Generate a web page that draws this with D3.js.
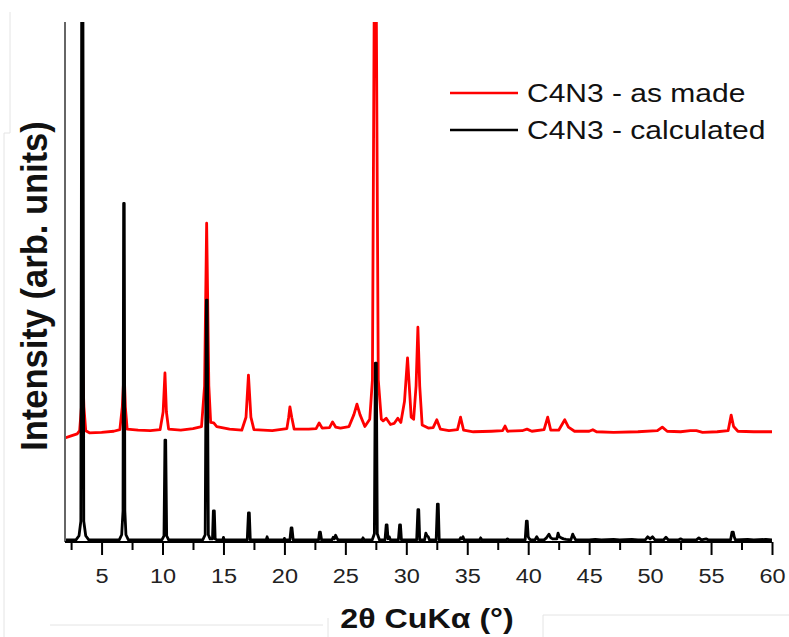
<!DOCTYPE html>
<html>
<head>
<meta charset="utf-8">
<script src="https://cdn.jsdelivr.net/npm/d3@7"></script>
<style>
  body { margin: 0; background: #fff; }
  text { font-family: "Liberation Sans", Arial, sans-serif; }
</style>
</head>
<body>
<div id="xrd"></div>
<script>
// pattern points: [2theta, intensity]
var asMade = [
  [2.0,200],[2.5,204],[3.0,208],[3.2,214],[3.35,260],[3.45,331],[3.55,260],[3.7,214],[4.0,210],[5,211],
  [6.0,213],[6.5,216],[6.7,260],[6.85,329],[6.95,260],[7.1,217],[8,215],[9,214],[9.8,216],[10.05,250],
  [10.2,325],[10.32,250],[10.5,217],[11.5,215],[12.5,218],[13.2,222],[13.45,300],[13.62,613],
  [13.8,300],[13.95,230],[14.2,229],[14.45,222],[15.5,217],[16.5,215],[16.85,240],[17.05,321],
  [17.25,240],[17.5,216],[19,214],[20.2,218],[20.35,240],[20.45,260],[20.6,240],[20.8,217],[22,217],
  [22.6,218],[22.85,229],[23.1,219],[23.7,220],[23.95,231],[24.2,221],[24.6,219],[25.3,222],[25.7,245],
  [25.95,265],[26.2,245],[26.6,222],[27.0,236],[27.22,312],[27.4,1200],[27.5,1200],[27.7,312],[27.95,236],
  [28.1,233],[28.35,238],[28.7,226],[29.0,228],[29.3,238],[29.55,230],[29.85,270],[30.1,354],
  [30.4,240],[30.6,236],[30.8,300],[30.95,413],[31.1,300],[31.3,225],[31.8,219],[32.2,220],[32.5,235],
  [32.8,217],[33.5,214],[34.2,216],[34.45,240],[34.7,215],[35.5,212],[37,213],[37.9,214],[38.1,223],
  [38.3,213],[39.5,214],[39.9,217],[40.3,213],[41.3,216],[41.6,240],[41.85,215],[42.5,215],[43.0,235],
  [43.3,221],[43.8,213],[45.0,213],[45.3,216],[45.6,212],[47,211],[49,212],[50.6,214],[51.0,221],
  [51.4,213],[52.5,212],[53.3,214],[53.8,214],[54.3,211],[55.5,212],[56.4,214],[56.65,244],[56.85,222],
  [57.2,213],[58.5,212],[60,212]
];

var calculated = [
  [2.0,4],[2.9,4],[3.15,12],[3.3,40],[3.38,1200],[3.46,1200],[3.54,40],[3.7,12],[3.95,4],
  [6.45,4],[6.65,14],[6.76,60],[6.81,651],[6.86,651],[6.91,60],[7.0,14],[7.2,4],
  [9.95,4],[10.12,12],[10.2,196],[10.26,196],[10.34,12],[10.5,4],
  [13.3,4],[13.5,14],[13.6,465],[13.66,465],[13.76,14],[13.9,6],
  [14.1,6],[14.17,60],[14.25,60],[14.32,6],[14.45,4],[14.95,4],[15.0,9],[15.06,4],
  [16.95,4],[17.05,56],[17.12,56],[17.2,4],[18.5,4],[18.58,10],[18.66,4],[19.95,4],[20.0,7],[20.05,4],
  [20.45,4],[20.55,27],[20.62,27],[20.72,4],[22.8,4],[22.88,19],[22.95,19],[23.05,4],
  [23.9,4],[24.0,9],[24.1,6],[24.2,13],[24.3,8],[24.4,4],[26.35,4],[26.45,8],[26.55,4],
  [27.2,4],[27.38,16],[27.46,344],[27.54,344],[27.62,16],[27.8,4],
  [28.25,4],[28.35,33],[28.42,33],[28.5,6],[28.6,10],[28.7,4],[29.35,4],[29.45,33],[29.52,33],[29.6,4],
  [30.85,4],[30.95,62],[31.02,62],[31.1,4],[31.5,4],[31.6,17],[31.7,12],[31.8,10],[31.9,4],
  [32.45,4],[32.55,73],[32.62,73],[32.7,4],[34.35,4],[34.45,8],[34.55,6],[34.65,10],[34.75,4],
  [36.0,4],[36.1,8],[36.2,4],[38.2,4],[38.3,6],[38.4,4],
  [39.75,4],[39.85,40],[39.92,40],[40.0,10],[40.1,6],[40.2,4],[40.55,4],[40.7,10],[40.85,4],
  [41.3,4],[41.5,8],[41.7,15],[41.85,8],[42.0,6],[42.35,6],[42.45,17],[42.55,10],[42.7,8],[42.9,6],[43.1,5],
  [43.5,4],[43.65,15],[43.75,10],[43.9,4],[45.0,4],[45.5,5],[46,4],[47,5],[47.5,4],[48.5,5],[49,4],
  [49.6,4],[49.8,10],[50.0,6],[50.2,10],[50.4,4],[51.1,4],[51.3,9],[51.5,4],[52.3,4],[52.5,6],[52.7,4],
  [53.8,4],[54.0,8],[54.2,4],[54.6,6],[54.8,4],[56.6,4],[56.72,19],[56.82,19],[56.9,10],[57.0,4],
  [58,5],[58.5,4],[59.5,5],[60,4]
];

var majorTicks = [5, 10, 15, 20, 25, 30, 35, 40, 45, 50, 55, 60];
var minorTicks = [2.5, 7.5, 12.5, 17.5, 22.5, 27.5, 32.5, 37.5, 42.5, 47.5, 52.5, 57.5];
var legendNames = ["C4N3 - as made", "C4N3 - calculated"];
var seriesColors = ["#ff0000", "#000000"];

var W = 789, H = 637;
var plotLeft = 65, plotRight = 772, plotTop = 22, plotBottom = 542;

var svg = d3.select("#xrd")
  .append("svg")
    .attr("width", W)
    .attr("height", H);

// faint crop edges visible in the original screenshot
svg.append("path")
  .attr("d", "M10,12V133H4V637 M50,625H323 M328,618V637 M543,637V615H789")
  .attr("fill", "none")
  .attr("stroke", "#e4e4e4")
  .attr("stroke-width", 1);

var x = d3.scaleLinear()
  .domain([2, 60])
  .range([plotLeft, plotRight]);

var y = d3.scaleLinear()
  .domain([0, 1000])
  .range([plotBottom, plotTop]);

svg.append("clipPath")
  .attr("id", "plotClip")
  .append("rect")
    .attr("x", plotLeft)
    .attr("y", plotTop)
    .attr("width", plotRight - plotLeft)
    .attr("height", plotBottom - plotTop);

var line = d3.line()
  .x(function(d) { return x(d[0]); })
  .y(function(d) { return y(d[1]); });

var plot = svg.append("g").attr("clip-path", "url(#plotClip)");

plot.append("path")
  .datum(asMade)
  .attr("d", line)
  .attr("fill", "none")
  .attr("stroke", seriesColors[0])
  .attr("stroke-width", 2.8)
  .attr("stroke-linejoin", "round");

plot.append("path")
  .datum(calculated)
  .attr("d", line)
  .attr("fill", "none")
  .attr("stroke", seriesColors[1])
  .attr("stroke-width", 2.8)
  .attr("stroke-linejoin", "round");

// left axis is just a grey line
svg.append("line")
  .attr("x1", plotLeft).attr("x2", plotLeft)
  .attr("y1", plotTop).attr("y2", plotBottom)
  .attr("stroke", "#666")
  .attr("stroke-width", 2);

// minor ticks
svg.append("g")
  .attr("transform", "translate(0," + plotBottom + ")")
  .call(d3.axisBottom(x).tickValues(minorTicks).tickSize(8).tickFormat(""))
  .call(function(g) { g.select(".domain").remove(); })
  .selectAll("line")
    .attr("stroke", "#000")
    .attr("stroke-width", 2);

// major ticks + labels
var xAxis = svg.append("g")
  .attr("transform", "translate(0," + plotBottom + ")")
  .call(d3.axisBottom(x).tickValues(majorTicks).tickSize(13).tickSizeOuter(0).tickPadding(0));

xAxis.select(".domain")
  .attr("stroke", "#000")
  .attr("stroke-width", 2)
  .attr("d", "M" + plotLeft + ",0H" + plotRight);
xAxis.selectAll(".tick line")
  .attr("stroke", "#000")
  .attr("stroke-width", 2);
xAxis.selectAll(".tick text")
  .attr("y", 41)
  .attr("dy", null)
  .attr("transform", "scale(1.12,1)")
  .style("font-family", "'Liberation Sans', Arial, sans-serif")
  .style("font-size", "21px")
  .attr("fill", "#222");

// X axis title
svg.append("text")
  .attr("text-anchor", "middle")
  .attr("transform", "translate(427,628) scale(1.15,1)")
  .style("font-size", "28px")
  .style("font-weight", "bold")
  .attr("fill", "#111")
  .text("2θ CuKα (°)");

// Y axis title
svg.append("text")
  .attr("text-anchor", "middle")
  .attr("transform", "translate(47,286) rotate(-90) scale(1,1.05)")
  .style("font-size", "34.5px")
  .style("font-weight", "bold")
  .attr("fill", "#111")
  .text("Intensity (arb. units)");

// legend
var legend = svg.selectAll("g.legend")
  .data(legendNames)
  .enter()
  .append("g")
    .attr("class", "legend")
    .attr("transform", function(d, i) { return "translate(450," + (93 + i * 37) + ")"; });

legend.append("line")
  .attr("x1", 0).attr("x2", 68)
  .attr("y1", 0).attr("y2", 0)
  .attr("stroke", function(d, i) { return seriesColors[i]; })
  .attr("stroke-width", 2.4);

legend.append("text")
  .attr("transform", "translate(77,9) scale(1.2,1)")
  .style("font-size", "25px")
  .attr("fill", "#111")
  .text(function(d) { return d; });
</script>
</body>
</html>
